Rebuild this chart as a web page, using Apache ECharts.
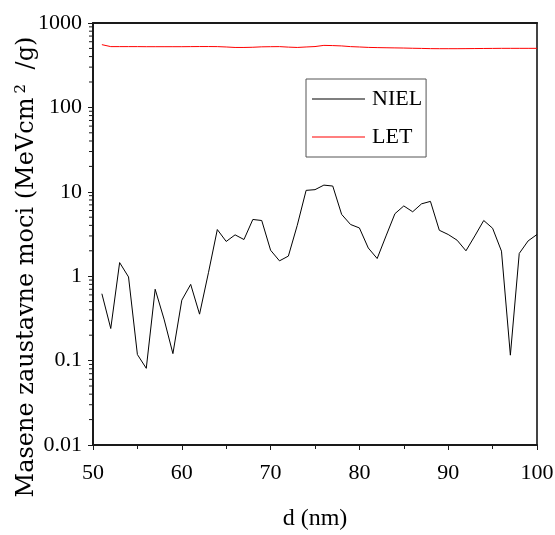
<!DOCTYPE html>
<html>
<head>
<meta charset="utf-8">
<script src="https://cdn.jsdelivr.net/npm/echarts@6/dist/echarts.min.js"></script>
<style>
html,body{margin:0;padding:0;background:#fff;}
#chart{width:555px;height:535px;}
</style>
</head>
<body>
<div id="chart"></div>
<script>
var dValues = [51,52,53,54,55,56,57,58,59,60,61,62,63,64,65,66,67,68,69,70,71,72,73,74,75,76,77,78,79,80,81,82,83,84,85,86,87,88,89,90,91,92,93,94,95,96,97,98,99,100];
var nielValues = [0.62,0.24,1.45,0.98,0.118,0.081,0.70,0.31,0.121,0.52,0.80,0.355,1.1,3.57,2.58,3.09,2.72,4.70,4.57,2.03,1.52,1.73,4.0,10.4,10.6,12.0,11.7,5.4,4.1,3.73,2.16,1.62,3.0,5.5,6.8,5.8,7.2,7.7,3.5,3.12,2.67,2.0,3.0,4.57,3.7,1.98,0.116,1.86,2.62,3.12];
var letValues = [554,525,525,525,525,524,524,524,524,524,525,526,526,525,520,513,513,516,522,524,525,518,513,520,526,543,540,535,525,520,514,511,509,507,505,502,500,497,496,496,496,497,498,499,500,501,501,501,501,501];
var seriesNames = ['NIEL','LET'];
var yTickLabels = ['0.01','0.1','1','10','100','1000'];
var yMinorTicks = [];
[0.01,0.1,1,10,100].forEach(function(dec){ for (var k=2;k<=9;k++) yMinorTicks.push(+(dec*k).toPrecision(3)); });

var FONT = 'Liberation Serif';
var TFONT = 'DejaVu Serif';
var AX = '#1a1a1a';

function pairs(xs, ys){ return xs.map(function(x,i){ return [x, ys[i]]; }); }

var chart = echarts.init(document.getElementById('chart'), null, {renderer:'canvas'});
chart.setOption({
  animation:false,
  backgroundColor:'#fff',
  grid:{left:93, right:18, top:23, bottom:90, containLabel:false, outerBoundsMode:'none'},
  legend:{
    show:true, orient:'vertical', left:306, top:79,
    data:[{name:seriesNames[0], icon:'rect'},{name:seriesNames[1], icon:'rect'}],
    itemWidth:53, itemHeight:1.2, itemGap:14,
    padding:[8,4,8,6],
    borderColor:'#555', borderWidth:1, backgroundColor:'#fff',
    textStyle:{fontFamily:FONT, fontSize:22, color:'#000', lineHeight:24, padding:[0,0,0,2]}
  },
  xAxis:[{
    type:'value', min:50, max:100, interval:10,
    name:'d (nm)', nameLocation:'middle', nameGap:62, nameMoveOverlap:false,
    nameTextStyle:{fontFamily:FONT, fontSize:24, color:'#000'},
    axisLine:{show:true, lineStyle:{color:AX, width:2}},
    axisTick:{show:true, length:5, lineStyle:{color:AX, width:1}},
    minorTick:{show:true, splitNumber:2, length:4, lineStyle:{color:AX, width:1}},
    axisLabel:{fontFamily:FONT, fontSize:22, color:'#000', margin:17},
    splitLine:{show:false}
  },{
    type:'value', min:50, max:100, interval:10, position:'top',
    axisLine:{show:true, lineStyle:{color:AX, width:2}},
    axisTick:{show:false}, axisLabel:{show:false}, splitLine:{show:false}
  }],
  yAxis:[{
    type:'log', logBase:10, min:0.01, max:1000,
    name:'{t|Masene zaustavne moci (MeVcm}{s|2}{t| /g)}',
    nameLocation:'middle', nameRotate:90, nameGap:53, nameMoveOverlap:false,
    nameTextStyle:{fontFamily:TFONT, fontSize:24, color:'#000', padding:[0,66,0,0],
      rich:{t:{fontFamily:TFONT, fontSize:24, color:'#000'}, s:{fontFamily:TFONT, fontSize:15, color:'#000', padding:[0,7,11,4]}}},
    axisLine:{show:true, lineStyle:{color:AX, width:2}},
    axisTick:{show:true, length:5, lineStyle:{color:AX, width:1}},
    axisLabel:{fontFamily:FONT, fontSize:22, color:'#000', margin:11,
      formatter:function(v){ var i=Math.round(Math.log10(v))+2; return yTickLabels[i] || String(v); }},
    splitLine:{show:false}
  },{
    type:'log', logBase:10, min:0.01, max:1000, position:'right',
    axisLine:{show:true, lineStyle:{color:'#444', width:2}},
    axisTick:{show:false}, axisLabel:{show:false}, splitLine:{show:false}
  }],
  series:[{
    name:'NIEL', type:'line', data:pairs(dValues, nielValues),
    symbol:'none', showSymbol:false, lineStyle:{color:'#000', width:1}, itemStyle:{color:'#000'}
  },{
    name:'LET', type:'line', data:pairs(dValues, letValues),
    symbol:'none', showSymbol:false, lineStyle:{color:'#ff0000', width:1}, itemStyle:{color:'#ff0000'}
  },{
    name:'yminor', type:'custom', clip:false, silent:true,
    data:yMinorTicks.map(function(v){ return [50, v]; }),
    renderItem:function(params, api){
      var p = api.coord([api.value(0), api.value(1)]);
      return {type:'line', shape:{x1:p[0]-4, y1:p[1], x2:p[0], y2:p[1]}, style:{stroke:AX, lineWidth:1}};
    }
  }]
});
</script>
</body>
</html>
